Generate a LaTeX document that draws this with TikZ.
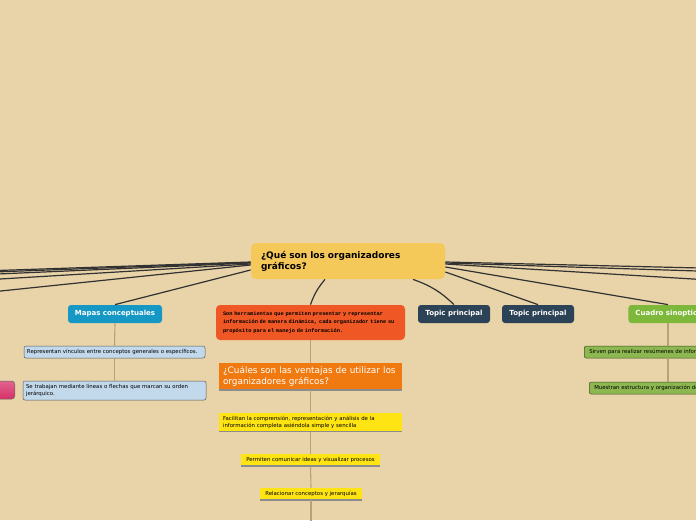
\documentclass[tikz,border=0pt]{standalone}
\usepackage{fontspec}
\setmainfont{DejaVu Sans}
\newfontfamily\monofont{Liberation Mono}
\definecolor{paper}{RGB}{232,212,168}
\definecolor{mainyel}{RGB}{245,200,90}
\definecolor{teal}{RGB}{22,152,196}
\definecolor{slate}{RGB}{44,66,86}
\definecolor{lime}{RGB}{125,184,58}
\definecolor{redor}{RGB}{239,88,36}
\definecolor{qorange}{RGB}{240,122,16}
\definecolor{lemon}{RGB}{255,228,20}
\definecolor{paleblue}{RGB}{194,216,235}
\definecolor{moss}{RGB}{141,183,80}
\definecolor{rose}{RGB}{214,48,104}
\definecolor{tan}{RGB}{184,160,122}
\definecolor{wire}{RGB}{50,50,50}
\begin{document}
\begin{tikzpicture}[x=1pt,y=-1pt,line width=0.8pt,
  topic/.style={rounded corners=3pt,text=white,inner sep=0pt,minimum height=18pt,
    font=\fontsize{7}{8}\selectfont\bfseries},
  leaf/.style={rounded corners=2pt,draw=black!65,line width=0.5pt,inner sep=0pt,
    font=\fontsize{5.4}{6.6}\selectfont,align=left},
  underl/.style={path picture={\draw[black!45,line width=1.4pt]
    (path picture bounding box.south west) -- (path picture bounding box.south east);}},
  branch/.style={draw=wire,line width=1.2pt},
  stem/.style={draw=tan,line width=1.1pt}]
 \fill[paper] (0,0) rectangle (696,520);
 \clip (0,0) rectangle (696,520);
 % root
 \node[fill=mainyel,rounded corners=5pt,minimum width=194pt,minimum height=36pt,
   text width=174pt,inner xsep=10pt,align=left,
   font=\fontsize{9}{11}\selectfont\bfseries] (root) at (348,261)
   {¿Qué son los organizadores\\gráficos?};
 % first level
 \node[topic,fill=teal,minimum width=94pt] (mapas) at (115,314) {Mapas conceptuales};
 \node[fill=redor,rounded corners=4pt,minimum width=189pt,minimum height=35pt,
   text width=175pt,inner xsep=7pt,align=left,
   font=\fontsize{5.3}{8.6}\selectfont\monofont\bfseries] (defin) at (310.5,322.5)
   {Son herramientas que permiten presentar y representar\\
    información de manera dinámica, cada organizador tiene su\\
    propósito para el manejo de información.};
 \node[topic,fill=slate,minimum width=72pt] (topa) at (454,314) {Topic principal};
 \node[topic,fill=slate,minimum width=72pt] (topb) at (538,314) {Topic principal};
 \node[topic,fill=lime,anchor=west,inner xsep=7pt] (cuadro) at (628,314) {Cuadro sinoptico};
 % mapas conceptuales
 \node[leaf,fill=paleblue,minimum width=181pt,minimum height=12pt,text width=175pt]
   (vinc) at (114.5,352) {Representan vínculos entre conceptos generales o específicos.};
 \node[leaf,fill=paleblue,minimum width=183pt,minimum height=19pt,text width=177pt]
   (lineas) at (114.5,390.5)
   {Se trabajan mediante líneas o flechas que marcan su orden\\jerárquico.};
 \node[rounded corners=3pt,draw=black!60,line width=0.5pt,top color=rose!75,
   bottom color=rose,minimum width=60pt,minimum height=18pt,anchor=east]
   (rosa) at (15,390) {};
 % ventajas
 \node[fill=qorange,underl,minimum width=183pt,minimum height=27pt,text width=175pt,
   inner xsep=4pt,align=left,text=white,font=\fontsize{8.9}{11}\selectfont]
   (ventaj) at (310.5,376.5)
   {¿Cuáles son las ventajas de utilizar los\\organizadores gráficos?};
 \node[fill=lemon,underl,minimum width=183pt,minimum height=18pt,text width=175pt,
   inner xsep=4pt,align=left,font=\fontsize{5.4}{6.8}\selectfont] (facil) at (310.5,422)
   {Facilitan la comprensión, representación y análisis de la\\
    información completa asiéndola simple y sencilla};
 \node[fill=lemon,underl,minimum width=139pt,minimum height=12pt,
   font=\fontsize{5.4}{6.4}\selectfont] (comun) at (310.5,460)
   {Permiten comunicar ideas y visualizar procesos};
 \node[fill=lemon,underl,minimum width=102pt,minimum height=12pt,
   font=\fontsize{5.4}{6.4}\selectfont] (relac) at (311,494)
   {Relacionar conceptos y jerarquías};
 \coordinate (down) at (311,530);
 % cuadro sinoptico
 \node[leaf,fill=moss,draw=black!55!moss,minimum height=12pt,anchor=west,inner xsep=5pt]
   (resum) at (584,352) {Sirven para realizar resúmenes de información};
 \node[leaf,fill=moss,draw=black!55!moss,minimum height=12pt,anchor=west,inner xsep=5pt]
   (estruc) at (589,388) {Muestran estructura y organización de la información};
 % branches leaving the picture
 \coordinate (w1) at (-30,271.4); \coordinate (w2) at (-30,272.9);
 \coordinate (w3) at (-30,275.2); \coordinate (w4) at (-30,280.8);
 \coordinate (w5) at (-30,294.2);
 \coordinate (e1) at (726,268.6); \coordinate (e2) at (726,271.9);
 \coordinate (e3) at (726,281.0);
 \draw[branch] (root.west) ++(0,1) -- (w1);
 \draw[branch] (root.west) ++(0,1.5) -- (w2);
 \draw[branch] (root.west) ++(0,2) -- (w3);
 \draw[branch] (root.west) ++(0,3) -- (w4);
 \draw[branch] (root.west) ++(0,4) -- (w5);
 \draw[branch] (root.east) ++(0,1) -- (e1);
 \draw[branch] (root.east) ++(0,2) -- (e2);
 \draw[branch] (root.east) ++(0,3) -- (e3);
 \draw[branch] (root.west) ++(0,9) -- (mapas.north);
 \draw[branch] (root.south) ++(-23,0) to[bend right=10] (defin.north);
 \draw[branch] (root.south) ++(65,0) to[bend left=12] (topa.north);
 \draw[branch] (root.east) ++(0,11) -- (topb.north);
 \draw[branch] (root.east) ++(0,6) -- (cuadro.north -| 668,0);
 % stems
 \draw[stem] (mapas.south) -- (vinc.north);
 \draw[stem] (vinc.south) -- (lineas.north);
 \draw[stem] (defin.south) -- (ventaj.north);
 \draw[stem] (ventaj.south) -- (facil.north);
 \draw[stem] (facil.south) -- (comun.north);
 \draw[stem] (comun.south) -- (relac.north);
 \draw[stem] (relac.south) -- (down);
 \draw[stem] (cuadro.south -| 668,0) -- (resum.north -| 668,0);
 \draw[stem] (resum.south -| 668,0) -- (estruc.north -| 668,0);
\end{tikzpicture}
\end{document}
